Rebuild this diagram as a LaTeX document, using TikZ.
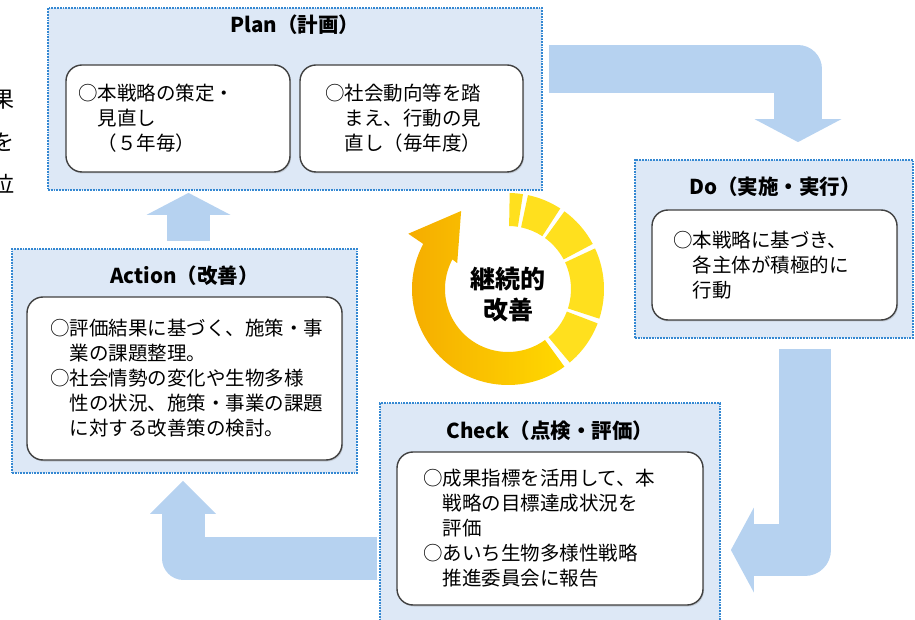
\documentclass[tikz,border=0pt]{standalone}
\usepackage{fontspec}
\setmainfont{Noto Sans CJK JP}
\usetikzlibrary{arrows.meta,calc,shadows}
\pgfdeclarelayer{background}
\pgfsetlayers{background,main}
\definecolor{panelfill}{RGB}{221,232,246}
\definecolor{paneledge}{RGB}{52,136,210}
\definecolor{flowblue}{RGB}{182,210,240}
\definecolor{ringorange}{RGB}{245,172,0}
\definecolor{ringyellow}{RGB}{255,216,0}
\definecolor{segyellow}{RGB}{255,224,30}

\begin{document}
\begin{tikzpicture}[x=1pt,y=1pt,
    panel/.style={draw=paneledge,fill=panelfill,densely dotted,line width=1.8pt,inner sep=0pt},
    card/.style={draw=black!75,fill=white,solid,line width=1.4pt,rounded corners=16pt,
        drop shadow={shadow xshift=1pt,shadow yshift=-1.5pt,opacity=0.3},
        align=left,inner ysep=0pt,font=\fontsize{19.5}{25}\selectfont},
    heading/.style={font=\bfseries\fontsize{20.5}{24}\selectfont},
    flow/.style={draw=flowblue,line join=round}]
            \clip (0,0) rectangle (915,619);

            % cut-off text at the left edge
            \node[font=\fontsize{22}{22}\selectfont] (frag1) at (3,519) {果};
            \node[font=\fontsize{22}{22}\selectfont] (frag2) at (3,477) {を};
            \node[font=\fontsize{22}{22}\selectfont] (frag3) at (3,435) {位};

            \node[panel,minimum width=494pt,minimum height=182pt] (plan) at (295,520) {};
            \node[panel,minimum width=278pt,minimum height=178pt] (do) at (774,370) {};
            \node[panel,minimum width=340pt,minimum height=230pt] (check) at (550,101) {};
            \node[panel,minimum width=345pt,minimum height=224pt] (action) at (184.5,258) {};

            \node[heading] (plantitle) at ([yshift=-18pt]plan.north) {Plan（計画）};
            \node[heading] (dotitle) at ([xshift=1pt,yshift=-28pt]do.north) {Do（実施・実行）};
            \node[heading] (checktitle) at ([yshift=-29pt]check.north) {Check（点検・評価）};
            \node[heading] (actiontitle) at ([yshift=-28pt]action.north) {Action（改善）};

            \node[card,minimum height=107pt,inner xsep=12pt,text width=200pt] (planA) at (178,500.5)
                {○本戦略の策定・\\　見直し\\　（５年毎）};
            \node[card,minimum height=107pt,inner xsep=25pt,text width=173pt] (planB) at (411.5,500.5)
                {○社会動向等を踏\\　まえ、行動の見\\　直し（毎年度）};
            \node[card,minimum height=110pt,inner xsep=21pt,text width=203pt] (doA) at (774.5,354)
                {○本戦略に基づき、\\　各主体が積極的に\\　行動};
            \node[card,minimum height=153pt,inner xsep=26pt,text width=254pt] (checkA) at (550,90.5)
                {○成果指標を活用して、本\\　戦略の目標達成状況を\\　評価\\○あいち生物多様性戦略\\　推進委員会に報告};
            \node[card,minimum height=163pt,inner xsep=23pt,text width=269pt] (actionA) at (184.5,240.5)
                {○評価結果に基づく、施策・事\\　業の課題整理。\\○社会情勢の変化や生物多様\\　性の状況、施策・事業の課題\\　に対する改善策の検討。};

            \begin{pgfonlayer}{background}
            \draw[flow,line width=48pt,-{Triangle[width=87pt,length=23pt,line width=0pt]}]
                ([xshift=6pt,yshift=30pt]plan.east) -| ([xshift=24pt,yshift=17pt]do.north);
            \draw[flow,line width=52pt,-{Triangle[width=85pt,length=23pt,line width=0pt]}]
                ([xshift=31pt,yshift=-10pt]do.south) |- ([xshift=10pt,yshift=-32pt]check.east);
            \draw[flow,line width=43pt,-{Triangle[width=66pt,length=33pt,line width=0pt]}]
                ([xshift=-2pt,yshift=-40pt]check.west) -| ([xshift=-1.5pt,yshift=-7pt]action.south);
            \draw[flow,line width=43pt,-{Triangle[width=84pt,length=22pt,line width=0pt]}]
                ([xshift=4pt,yshift=7pt]action.north) -- ($(action.north |- plan.south)+(4,-2)$);
            \end{pgfonlayer}

            % the ring in the middle
            \coordinate (loop) at (508,330);
            \begin{scope}[shift={(loop)}]
                \foreach \a/\b in {81/89,57/78,28/54,-18/25,-50/-21}
                    \fill[segyellow] (\a:63) arc[start angle=\a,end angle=\b,radius=63]
                        -- (\b:96) arc[start angle=\b,end angle=\a,radius=96] -- cycle;
                \shade[left color=ringorange,right color=ringyellow] (-54:96)
                    arc[start angle=-54,end angle=-208,radius=96] -- (-209:114) -- (-239:91)
                    -- (-207:57) -- (-208:63) arc[start angle=-208,end angle=-54,radius=63] -- cycle;
            \end{scope}
            \node[font=\bfseries\fontsize{25}{31}\selectfont,align=center] (kaizen) at (508,324) {継続的\\改善};
        \end{tikzpicture}
\end{document}
